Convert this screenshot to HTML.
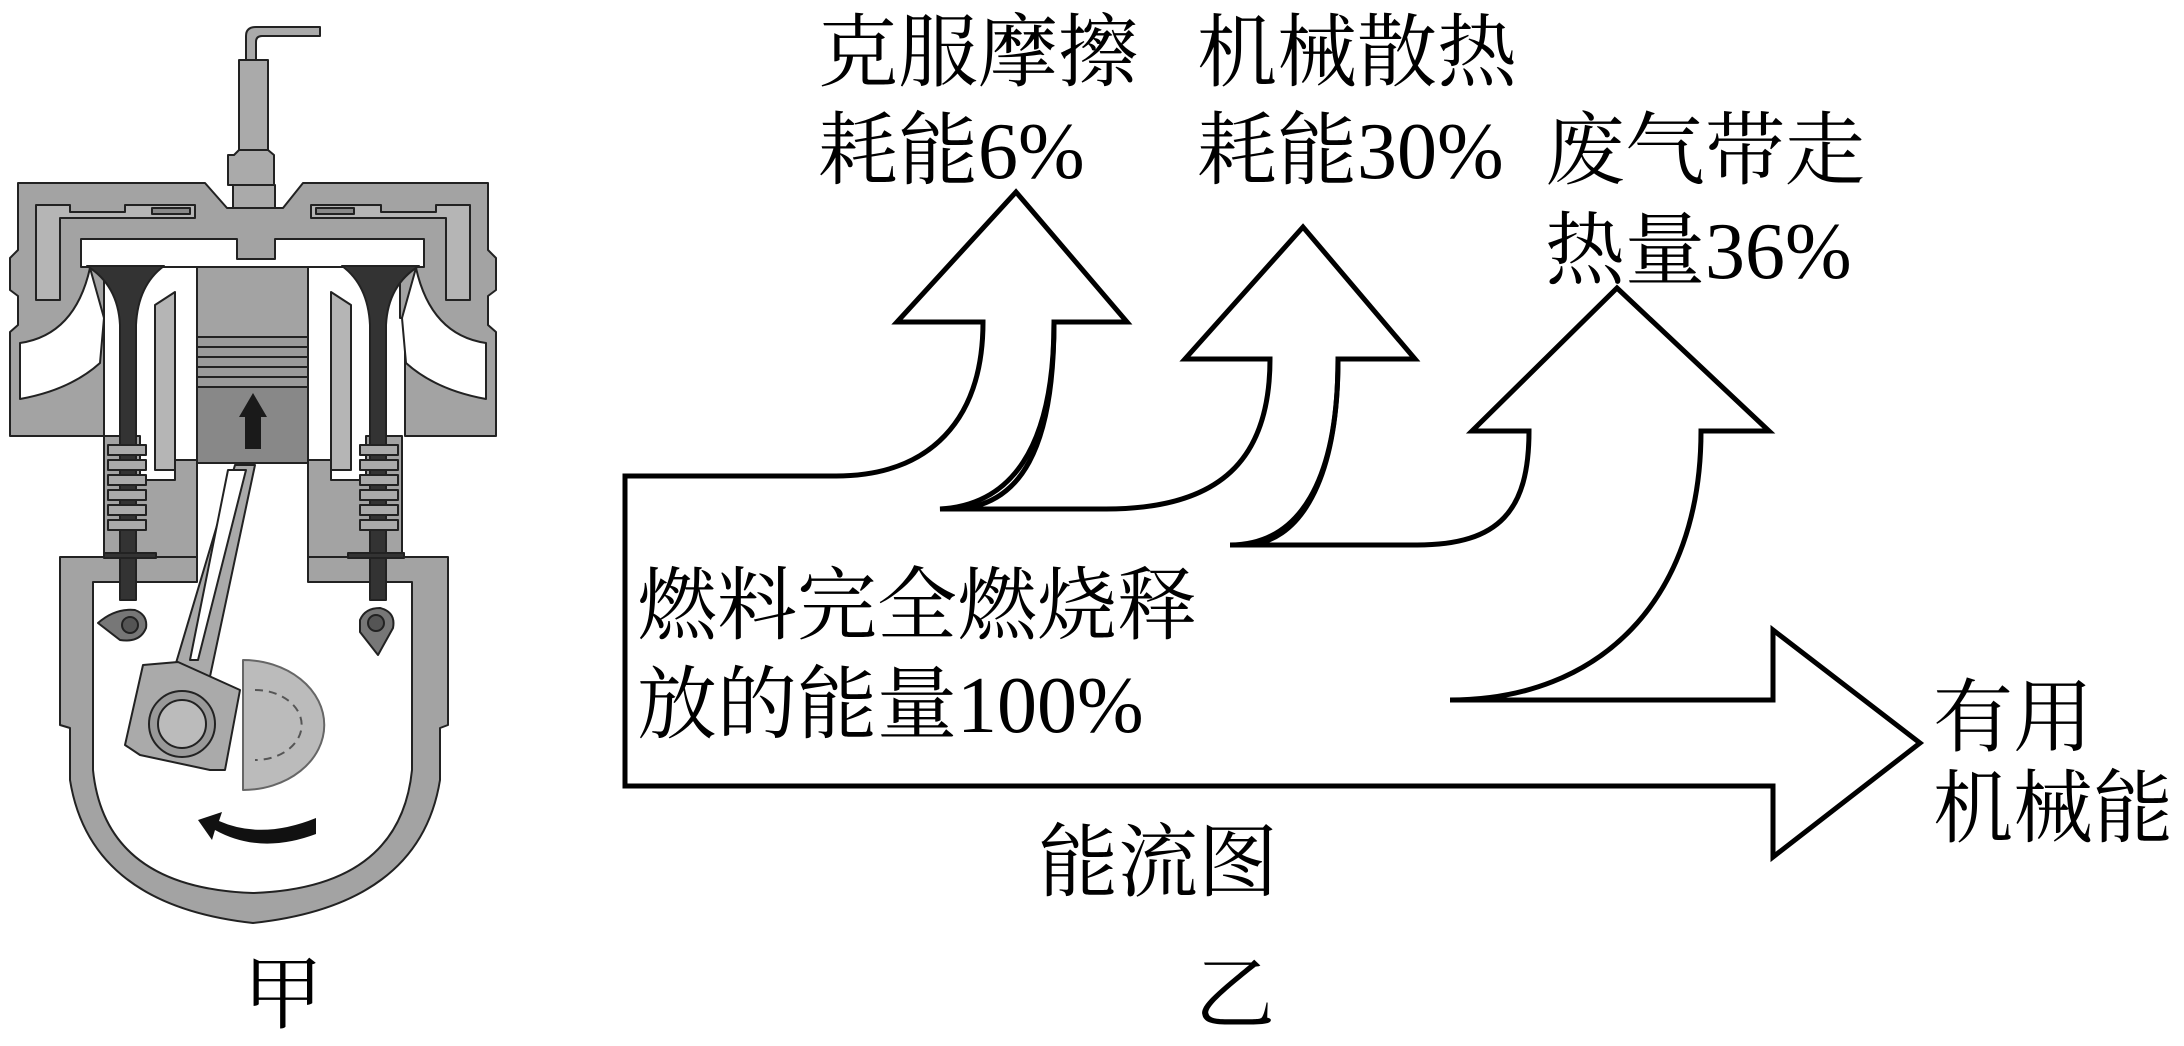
<!DOCTYPE html>
<html><head><meta charset="utf-8"><style>
html,body{margin:0;padding:0;background:#fff;}
svg{display:block}
text{font-family:"Noto Serif CJK SC",serif;font-size:80px;fill:#000}
tspan.d{font-family:"Liberation Serif","Times New Roman",serif}
</style></head><body>
<svg width="2184" height="1046" viewBox="0 0 2184 1046" xmlns="http://www.w3.org/2000/svg">
<g stroke="#222" stroke-width="2" stroke-linejoin="round">
<path d="M246,60 V36 Q246,27 256,27 H320 V36 H262 Q256,36 256,42 V62" fill="#aaa"/>
<rect x="239" y="60" width="29" height="95" fill="#aaa"/>
<path d="M234,155 L239,150 H268 L274,155 V185 H228 V155 Z" fill="#aaa"/>
<rect x="233" y="185" width="42" height="24" fill="#aaa"/>
<path d="M18,183 H205 L227,208 H283 L303,183 H488 V250 L496,258 V290 L488,296 V325 L496,332 V436 H405 V318 H400 V267 H308 V460 H197 V267 H104 V318 V436 H10 V332 L18,325 V296 L10,290 V258 L18,250 Z" fill="#a3a3a3"/>
<path d="M81,239 H237 V259 H275 V239 H424 V267 H81 Z" fill="#fff"/>
<path d="M20,343 Q75,335 90,268 L104,318 L100,363 Q70,390 20,399 Z" fill="#fff"/>
<path d="M486,343 Q431,335 416,268 L402,318 L406,363 Q436,390 486,399 Z" fill="#fff"/>
<path d="M36,205 H70 V212 H125 V205 H195 V218 H60 V300 H36 Z" fill="#b5b5b5"/>
<path d="M470,205 H436 V212 H381 V205 H311 V218 H446 V300 H470 Z" fill="#b5b5b5"/>
<rect x="152" y="208" width="38" height="6" fill="#888"/>
<rect x="316" y="208" width="38" height="6" fill="#888"/>
<path d="M155,305 L175,292 V470 H155 Z" fill="#b5b5b5"/>
<path d="M351,305 L331,292 V470 H351 Z" fill="#b5b5b5"/>
<path d="M104,436 V560 H197 V460 H175 V480 H140 V436 Z" fill="#a3a3a3"/>
<path d="M402,436 V560 H308 V460 H331 V480 H366 V436 Z" fill="#a3a3a3"/>
<path d="M60,557 H197 V582 H93 V770 Q105,888 253,893 Q400,888 412,770 V582 H308 V557 H448 V725 L440,728 V780 Q420,905 253,923 Q90,905 70,780 V728 L60,725 Z" fill="#a3a3a3"/>
<rect x="197" y="337" width="111" height="126" fill="#888"/>
<g fill="#9a9a9a"><rect x="197" y="337" width="111" height="10"/><rect x="197" y="347" width="111" height="10"/><rect x="197" y="357" width="111" height="10"/><rect x="197" y="367" width="111" height="10"/><rect x="197" y="377" width="111" height="10"/></g>
<path d="M245,449 V417 H239 L253,393 L267,417 H261 V449 Z" fill="#1a1a1a" stroke="none"/>
<path d="M87,266 H164 Q138,285 136,325 V600 H120 V325 Q118,285 87,266 Z" fill="#333"/>
<path d="M342,266 H419 Q388,285 386,325 V600 H370 V325 Q368,285 342,266 Z" fill="#333"/>
<g fill="#aaa"><rect x="108" y="445" width="38" height="10"/><rect x="108" y="460" width="38" height="10"/><rect x="108" y="475" width="38" height="10"/><rect x="108" y="490" width="38" height="10"/><rect x="108" y="505" width="38" height="10"/><rect x="108" y="520" width="38" height="10"/>
<rect x="360" y="445" width="38" height="10"/><rect x="360" y="460" width="38" height="10"/><rect x="360" y="475" width="38" height="10"/><rect x="360" y="490" width="38" height="10"/><rect x="360" y="505" width="38" height="10"/><rect x="360" y="520" width="38" height="10"/></g>
<rect x="104" y="553" width="52" height="5" fill="#333"/>
<rect x="348" y="553" width="56" height="5" fill="#333"/>
<path d="M98,623 Q115,608 135,610 Q148,615 146,628 Q140,643 120,640 Z" fill="#777"/>
<circle cx="130" cy="625" r="8" fill="#555"/>
<path d="M360,620 Q365,608 380,608 Q396,612 393,628 L378,655 L360,632 Z" fill="#777"/>
<circle cx="376" cy="623" r="8" fill="#555"/>
<path d="M235,465 L255,465 L205,700 L165,700 Z" fill="#aaa"/>
<path d="M228,470 L246,470 L198,660 L190,660 Z" fill="#fff"/>
<path d="M143,665 L178,662 L240,690 L225,770 L210,770 L140,755 L125,745 Z" fill="#aaa"/>
<path d="M243,660 A75,60 0 0 1 243,790 Z" fill="#bbb" stroke="#666"/>
<path d="M255,690 A40,30 0 0 1 255,760" fill="none" stroke="#555" stroke-dasharray="8,6"/>
<circle cx="182" cy="724" r="33" fill="#999"/>
<circle cx="182" cy="724" r="24" fill="#bbb"/>
<path d="M316,834 Q260,855 215,830 L212,840 L198,820 L222,812 L219,821 Q262,840 316,818 Z" fill="#111" stroke="none"/>
</g>
<text x="243" y="1022">甲</text>

<g fill="#fff" stroke="#000" stroke-width="5" stroke-linejoin="miter">
<path d="M625,476 H836 C930,476 983,420 983,322 H897 L1016,192 L1127,322 H1054 C1054,450 1010,505 940,509 H1106 C1220,509 1270,460 1270,359 H1185 L1303,227 L1415,359 H1338 C1338,480 1300,545 1230,545 H1417 C1500,545 1529,510 1529,431 H1472 L1617,288 L1769,431 H1701 C1701,600 1600,700 1450,700 H1773 V630 L1920,743 L1773,857 V786 H625 Z"/>
<path d="M957,509 C1020,505 1054,450 1054,322" fill="none"/>
<path d="M1243,545 C1300,545 1338,480 1338,359" fill="none"/>
</g>
<text x="818" y="80">克服摩擦</text>
<text x="818" y="178">耗能<tspan class="d">6%</tspan></text>
<text x="1197" y="80">机械散热</text>
<text x="1197" y="178">耗能<tspan class="d">30%</tspan></text>
<text x="1545" y="178">废气带走</text>
<text x="1545" y="278">热量<tspan class="d">36%</tspan></text>
<text x="637" y="633">燃料完全燃烧释</text>
<text x="637" y="732">放的能量<tspan class="d">100%</tspan></text>
<text x="1933" y="745">有用</text>
<text x="1933" y="836">机械能</text>
<text x="1038" y="890">能流图</text>
<text x="1195" y="1022">乙</text>
</svg>
</body></html>
